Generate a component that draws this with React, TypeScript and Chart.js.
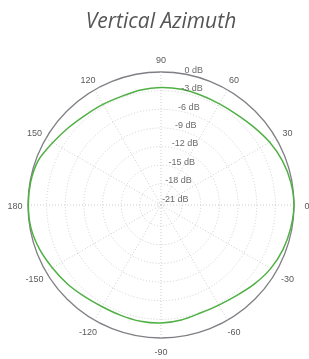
import React, { useEffect, useRef } from "react";
import { Chart, registerables } from "chart.js";

Chart.register(...registerables);

// Direction of each sample (degrees), in clockwise order starting at the top
const angles = [
  90, 80, 70, 60, 50, 40, 30, 20, 10, 0, -10, -20, -30, -40, -50, -60, -70, -80,
  -90, -100, -110, -120, -130, -140, -150, -160, -170, 180, 170, 160, 150, 140, 130, 120, 110, 100,
];
// Relative gain (dB)
const gainDb = [
  -2.5, -2.5, -2.6, -2.6, -2.4, -1.9, -1.2, -0.6, -0.2, 0, -0.2, -0.5, -1.0, -1.7, -2.4, -2.8, -2.9, -2.6,
  -2.4, -2.4, -2.5, -2.5, -2.2, -1.7, -1.2, -0.6, -0.15, -0.05, -0.1, -0.4, -1.3, -2.0, -2.5, -2.7, -2.8, -2.6,
];
const radialTicks = [-21, -18, -15, -12, -9, -6, -3, 0];
const angleTickLabels = [90, 60, 30, 0, -30, -60, -90, -120, -150, 180, 150, 120];
const scaleMin = -21.4;
const scaleMax = 0;
const titleText = "Vertical Azimuth";

const labelsPlugin = {
  id: "polarLabels",
  afterDraw(chart: any) {
    const s = chart.scales.r;
    const ctx = chart.ctx;
    ctx.save();
    // angle labels
    ctx.font = "9px 'Liberation Sans', Arial, sans-serif";
    ctx.fillStyle = "#5a5a5a";
    ctx.textAlign = "center";
    ctx.textBaseline = "middle";
    angles.forEach((a, i) => {
      if (!angleTickLabels.includes(a)) return;
      const p = s.getPointPosition(i, s.drawingArea + 13);
      ctx.fillText(String(a), p.x, p.y + 1.5);
    });
    // radial tick labels along the 80° direction
    ctx.fillStyle = "#6a6a6a";
    ctx.textAlign = "left";
    ctx.textBaseline = "bottom";
    const th = (80 * Math.PI) / 180;
    radialTicks.forEach((v) => {
      const d = s.getDistanceFromCenterForValue(v);
      const x = s.xCenter + d * Math.cos(th);
      const y = s.yCenter - d * Math.sin(th);
      ctx.fillText(v + " dB", x + 0.5, y + 1);
    });
    ctx.restore();
  },
};

export default function App() {
  const ref = useRef<HTMLCanvasElement>(null);
  useEffect(() => {
    if (!ref.current) return;
    const chart = new Chart(ref.current, {
      type: "radar",
      data: {
        labels: angles.map(String),
        datasets: [
          {
            data: gainDb,
            borderColor: "#4fb043",
            borderWidth: 1.5,
            pointRadius: 0,
            fill: false,
            tension: 0.3,
          },
        ],
      },
      options: {
        responsive: false,
        animation: false,
        layout: { padding: { left: 28, right: 15, top: 0, bottom: 21 } },
        plugins: {
          legend: { display: false },
          tooltip: { enabled: false },
          title: {
            display: true,
            text: titleText,
            color: "#555",
            font: { family: "'Open Sans', sans-serif", size: 21, style: "italic", weight: "normal" },
            padding: { top: 9.4, bottom: 37.4 },
          },
        },
        scales: {
          r: {
            min: scaleMin,
            max: scaleMax,
            startAngle: 0,
            afterBuildTicks: (scale: any) => {
              scale.ticks = radialTicks.map((v) => ({ value: v }));
            },
            ticks: { display: false },
            pointLabels: { display: false },
            grid: {
              circular: true,
              color: (c: any) => (c.tick && c.tick.value === 0 ? "#7f7f85" : "#cdcdcd"),
              lineWidth: (c: any) => (c.tick && c.tick.value === 0 ? 1.3 : 1),
            },
            border: {
              dash: (c: any) => (c.tick && c.tick.value === 0 ? [] : [1, 2]),
            },
            angleLines: {
              display: true,
              color: "#cdcdcd",
              lineWidth: (c: any) => (angleTickLabels.includes(angles[c.index]) ? 1 : 0),
              borderDash: [1, 2],
            },
          },
        },
      },
      plugins: [labelsPlugin],
    } as any);
    return () => chart.destroy();
  }, []);
  return (
    <div style={{ position: "fixed", left: 0, top: 0, width: 309, height: 359, background: "#fff" }}>
      <canvas ref={ref} width={309} height={359} style={{ display: "block" }} />
    </div>
  );
}
